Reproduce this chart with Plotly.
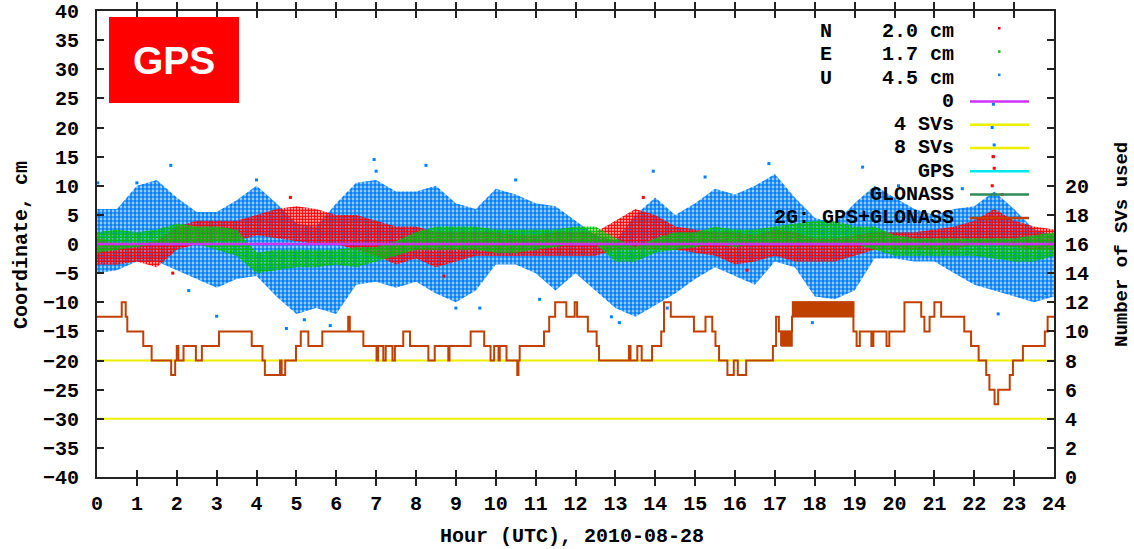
import plotly.graph_objects as go

# ---------------- data ----------------
hours = [h / 2 for h in range(49)]  # 0, 0.5, ... 24 (bin grid)

# U (up) component: dense envelope of the point cloud, cm
U_hi = [6, 6, 10, 11, 8, 5.5, 5.5, 7.5, 10, 7, 3.5, 3, 7, 10.5, 11, 9, 9, 10, 7, 6,
        9.5, 8.5, 7, 6.5, 4, 1.5, 0.5, 5, 8, 5, 7, 9.5, 8.5, 10, 12, 8, 4.5, 3.5, 7, 10,
        8, 6, 5, 6, 6.5, 9, 6, 2.5, 1.5]
U_lo = [-5, -4.5, -3, -3, -4.5, -6, -7.5, -6, -5.5, -9, -12, -11, -12, -7, -6.5, -7.5,
        -6.5, -8.5, -10, -8, -3.5, -3.5, -5, -8, -5, -8, -11, -12.5, -10.5, -8.5, -6, -4,
        -5.5, -7, -3, -4, -9, -9.5, -8, -2.5, -2.5, -3, -3, -5, -7, -8, -9, -10, -9]
# isolated U points outside the dense cloud (hour, cm)
U_out_t = [0.02, 1.0, 1.85, 3.0, 4.0, 4.75, 5.85, 6.95, 7.0, 8.25, 9.0, 10.5, 11.1,
           13.1, 13.95, 15.25, 16.85, 17.94, 19.2, 22.45, 22.5, 22.47, 22.48, 22.6, 23.8,
           2.3, 5.2, 12.9, 14.3, 20.1, 21.7, 9.6]
U_out_v = [10.5, 10.5, 13.5, -12.4, 11, -14.5, -14, 14.5, 12.5, 13.5, -11, 11, -9.5,
           -13.5, 12.5, 11.5, 13.8, -13.5, 13.2, 20, 17, 15, 24, -12, -8.5,
           -8, -13, -12.5, -11, 10, 9.5, -11]

# N (north) component, cm
N_hi = [1, 0, 0, 0.5, 3, 4, 4, 4, 5, 6, 6.5, 6, 5, 5, 4, 3, 3, 2, 2, 2, 2, 1.5, 1.5, 2,
        2, 2, 4, 6, 5, 3, 2.5, 2, 2, 1.5, 2.5, 2, 1, 1, 1.5, 2, 2, 2, 2.5, 3, 4, 6, 4, 3, 2.5]
N_lo = [-3.5, -3.5, -3, -4, -1, 0, 0.5, 0.5, 1.5, 1, 0.5, 0, 0, -1, -2, -3.5, -2.5, -4,
        -3, -2, -2, -2, -2, -2, -2, -2, -1, -1, -1, -1, -1.5, -2, -3.5, -3, -2, -3, -3, -3,
        -2, -1, -1, -1, -1, -1, 0, 0, -0.5, -1, -1]
N_out_t = [22.5, 22.45, 22.48, 13.7, 4.85, 1.9, 8.7, 16.3, 22.7]
N_out_v = [13, 10, 15, 8, 8, -5, -5.5, -4.5, 8.5]

# E (east) component, cm
E_hi = [2, 2.5, 2, 2.5, 3.5, 3, 3, 2.5, -1.5, -1, -1, -1, -1, -0.5, -0.5, 0.5, 2, 3, 3,
        3, 2.5, 2.5, 2.5, 2.5, 3, 3, 1, -0.5, 1, 2, 2, 3, 2.5, 2.5, 3, 3.5, 4, 4, 3, 3,
        1.5, 1, 1, 1, 1, 1, 1, 1.5, 2]
E_lo = [-1.5, -1, -0.5, 0, 0, 0, -1, -2, -5, -4.5, -4, -4, -3.5, -4, -3, -2, -1, -1, -1,
        -1, -1.5, -1.5, -1, -0.5, 0, 0, -3, -3, -1.5, -1, -0.5, 0, -0.5, 0, 0, 0, 0, 0, 0,
        -1, -2, -2, -2, -2, -2, -2.5, -3, -3, -2]

# number of satellites used (step changes: hour, count)
sv_t = [0, 0.62, 0.72, 0.76, 1.16, 1.37, 1.86, 1.96, 2.00, 2.04, 2.17, 2.48, 2.63, 3.06,
        3.88, 4.15, 4.21, 4.59, 4.63, 4.72, 4.99, 5.11, 5.30, 5.65, 6.30, 6.34, 6.68,
        7.01, 7.05, 7.18, 7.24, 7.41, 7.47, 7.68, 7.85, 8.31, 8.47, 8.81, 8.84, 9.37,
        9.71, 9.87, 9.96, 10.07, 10.10, 10.27, 10.54, 10.57, 10.60, 11.21, 11.34, 11.49,
        11.77, 11.98, 12.04, 12.31, 12.53, 12.59, 13.34, 13.38, 13.55, 13.66, 13.92,
        14.15, 14.22, 14.39, 14.97, 15.26, 15.43, 15.51, 15.60, 15.81, 15.97, 16.07,
        16.28, 16.95, 17.03, 17.10, 17.15, 17.43, 17.45, 18.97, 19.05, 19.13, 19.42,
        19.47, 19.80, 19.87, 20.25, 20.67, 20.75, 20.88, 21.00, 21.17, 21.75, 21.92,
        22.11, 22.30, 22.38, 22.51, 22.60, 22.89, 22.97, 23.22, 23.77, 23.84, 24.0]
sv_n = [11, 12, 11, 10, 9, 8, 7, 8, 9, 8, 9, 8, 9, 10,
        9, 8, 7, 8, 7, 8, 9, 10, 9, 10, 11, 10, 9,
        8, 9, 8, 9, 8, 9, 10, 9, 8, 9, 8, 9, 10,
        9, 8, 9, 8, 9, 8, 7, 8, 9, 10, 11, 12,
        11, 12, 11, 10, 9, 8, 9, 8, 9, 8, 9,
        10, 12, 11, 10, 11, 10, 9, 8, 7, 8, 7,
        8, 9, 11, 10, 10, 11, 12, 10, 9, 10, 9,
        10, 9, 10, 12, 11, 10, 11, 12, 11, 10, 9,
        8, 7, 6, 5, 6, 7, 8, 9, 10, 11, 11]
# periods where the count toggled rapidly between two values
flick_t0 = [17.15, 17.45]
flick_t1 = [17.43, 18.97]
flick_lo = [9, 11]
flick_hi = [10, 12]

zero_level = 0
sv_ref_levels = [4, 8]

# legend entries
rms_labels = ["N", "E", "U"]
rms_values = ["2.0 cm", "1.7 cm", "4.5 cm"]
line_labels = ["0", "4 SVs", "8 SVs", "GPS", "GLONASS", "2G: GPS+GLONASS"]

# ---------------- styling ----------------
C_N, C_E, C_U = "#ff0000", "#00c000", "#0080ff"
C_ZERO, C_YEL, C_GPS, C_GLO, C_SV = "#cc33ff", "#eeee00", "#00e8f0", "#2e8b57", "#c04000"
FONT = "Liberation Mono"
W, H = 1134, 549
L, R, T, B = 97, 1054, 11, 477  # plot area in pixels
CLEAR = "rgba(0,0,0,0)"


def px(xp):
    return (xp - L) / (R - L)


def py(yp):
    return (B - yp) / (B - T)


def band(x, lo, hi):
    return list(x) + list(x)[::-1], list(hi) + list(lo)[::-1]


def cloud(x, lo, hi, color, size, solidity, bg=CLEAR):
    bx, by = band(x, lo, hi)
    return go.Scatter(x=bx, y=by, fill="toself", mode="lines", line=dict(width=0),
                      fillcolor=CLEAR,
                      fillpattern=dict(shape=".", fgcolor=color, bgcolor=bg,
                                       size=size, solidity=solidity),
                      hoverinfo="skip")


fig = go.Figure()

fig.add_trace(cloud(hours, U_lo, U_hi, C_U, 4, 0.7, bg="rgba(0,128,255,0.18)"))
fig.add_trace(go.Scatter(x=U_out_t, y=U_out_v, mode="markers",
                         marker=dict(symbol="square", size=3, color=C_U), hoverinfo="skip"))
fig.add_trace(cloud(hours, N_lo, N_hi, C_N, 3, 0.72))
fig.add_trace(go.Scatter(x=N_out_t, y=N_out_v, mode="markers",
                         marker=dict(symbol="square", size=3, color=C_N), hoverinfo="skip"))
fig.add_trace(cloud(hours, E_lo, E_hi, C_E, 3, 0.72))

# reference lines for 4 and 8 satellites
for lv in sv_ref_levels:
    fig.add_trace(go.Scatter(x=[0, 24], y=[lv, lv], yaxis="y2", mode="lines",
                             line=dict(color=C_YEL, width=2), hoverinfo="skip"))

# satellites used
fig.add_trace(go.Scatter(x=sv_t, y=sv_n, yaxis="y2", mode="lines", line_shape="hv",
                         line=dict(color=C_SV, width=2), hoverinfo="skip"))
for t0, t1, lo, hi in zip(flick_t0, flick_t1, flick_lo, flick_hi):
    fig.add_trace(go.Scatter(x=[t0, t1, t1, t0, t0], y=[lo, lo, hi, hi, lo], yaxis="y2",
                             mode="lines", fill="toself", fillcolor=C_SV,
                             line=dict(color=C_SV, width=1.5), hoverinfo="skip"))

tickfont = dict(family=FONT, size=20, color="black", weight="bold")
axis_common = dict(ticks="inside", ticklen=7, tickwidth=1.5, tickcolor="#222",
                   showline=True, linewidth=2, linecolor="#222", showgrid=False,
                   zeroline=False, tickfont=tickfont, automargin=False)

fig.update_layout(
    template="none",
    width=W, height=H, showlegend=False,
    margin=dict(l=L, r=W - R, t=T, b=H - B, pad=0),
    plot_bgcolor="white", paper_bgcolor="white",
    xaxis=dict(range=[0, 24], tickvals=list(range(25)), mirror="allticks",
               ticklabelstandoff=7, **axis_common),
    yaxis=dict(range=[-40, 40], tickvals=list(range(-40, 41, 5)), mirror=True,
               ticklabelstandoff=12, **axis_common),
    yaxis2=dict(range=[0, 32], overlaying="y", side="right",
                tickvals=list(range(0, 31, 2)),
                ticktext=[str(v) if v <= 20 else "" for v in range(0, 31, 2)],
                ticklabelstandoff=5, **axis_common),
)

ann = []
shapes = []
lab_font = dict(family=FONT, size=20, color="black", weight="bold")

# zero line, drawn above the point clouds
shapes.append(dict(type="line", xref="paper", yref="y", x0=0, x1=1,
                   y0=zero_level, y1=zero_level, line=dict(color=C_ZERO, width=2.5),
                   layer="above"))


def text(s, xp, yp, xanchor="center", angle=0, font=lab_font):
    ann.append(dict(text=s, x=px(xp), y=py(yp), xref="paper", yref="paper",
                    xanchor=xanchor, yanchor="middle", textangle=angle,
                    showarrow=False, font=font))


# axis titles
text("Coordinate, cm", 22, 245, angle=-90)
text("Number of SVs used", 1122, 245, angle=-90,
     font=dict(family=FONT, size=19, color="black", weight="bold"))
text("Hour (UTC), 2010-08-28", 572, 536)

# key
row_y = [31.5 + 23.3 * i for i in range(9)]
for i, (lab, val) in enumerate(zip(rms_labels, rms_values)):
    text(lab, 818, row_y[i], xanchor="left")
    text(val, 956, row_y[i], xanchor="right")
for c, yy in zip([C_N, C_E, C_U], row_y[:3]):
    shapes.append(dict(type="rect", xref="paper", yref="paper", x0=px(998), x1=px(1000.5),
                       y0=py(yy - 2), y1=py(yy - 4.5), fillcolor=c, line=dict(width=0)))
line_cols = [C_ZERO, C_YEL, C_YEL, C_GPS, C_GLO, C_SV]
for j, (lab, c) in enumerate(zip(line_labels, line_cols)):
    yy = row_y[3 + j]
    text(lab, 956, yy, xanchor="right")
    shapes.append(dict(type="line", xref="paper", yref="paper", x0=px(970), x1=px(1029),
                       y0=py(yy), y1=py(yy), line=dict(color=c, width=2.5)))

# GPS badge
shapes.append(dict(type="rect", xref="paper", yref="paper", x0=px(109), x1=px(239),
                   y0=py(103), y1=py(17), fillcolor="#ff0000", line=dict(width=0),
                   layer="above"))
text("<b>GPS</b>", 174, 61, font=dict(family="Liberation Sans", size=39, color="white"))

fig.update_layout(annotations=ann, shapes=shapes)
fig.write_html("out.html", config={"displayModeBar": False},
               post_script="document.body.style.margin='0';"
                           "document.body.style.padding='0';")
